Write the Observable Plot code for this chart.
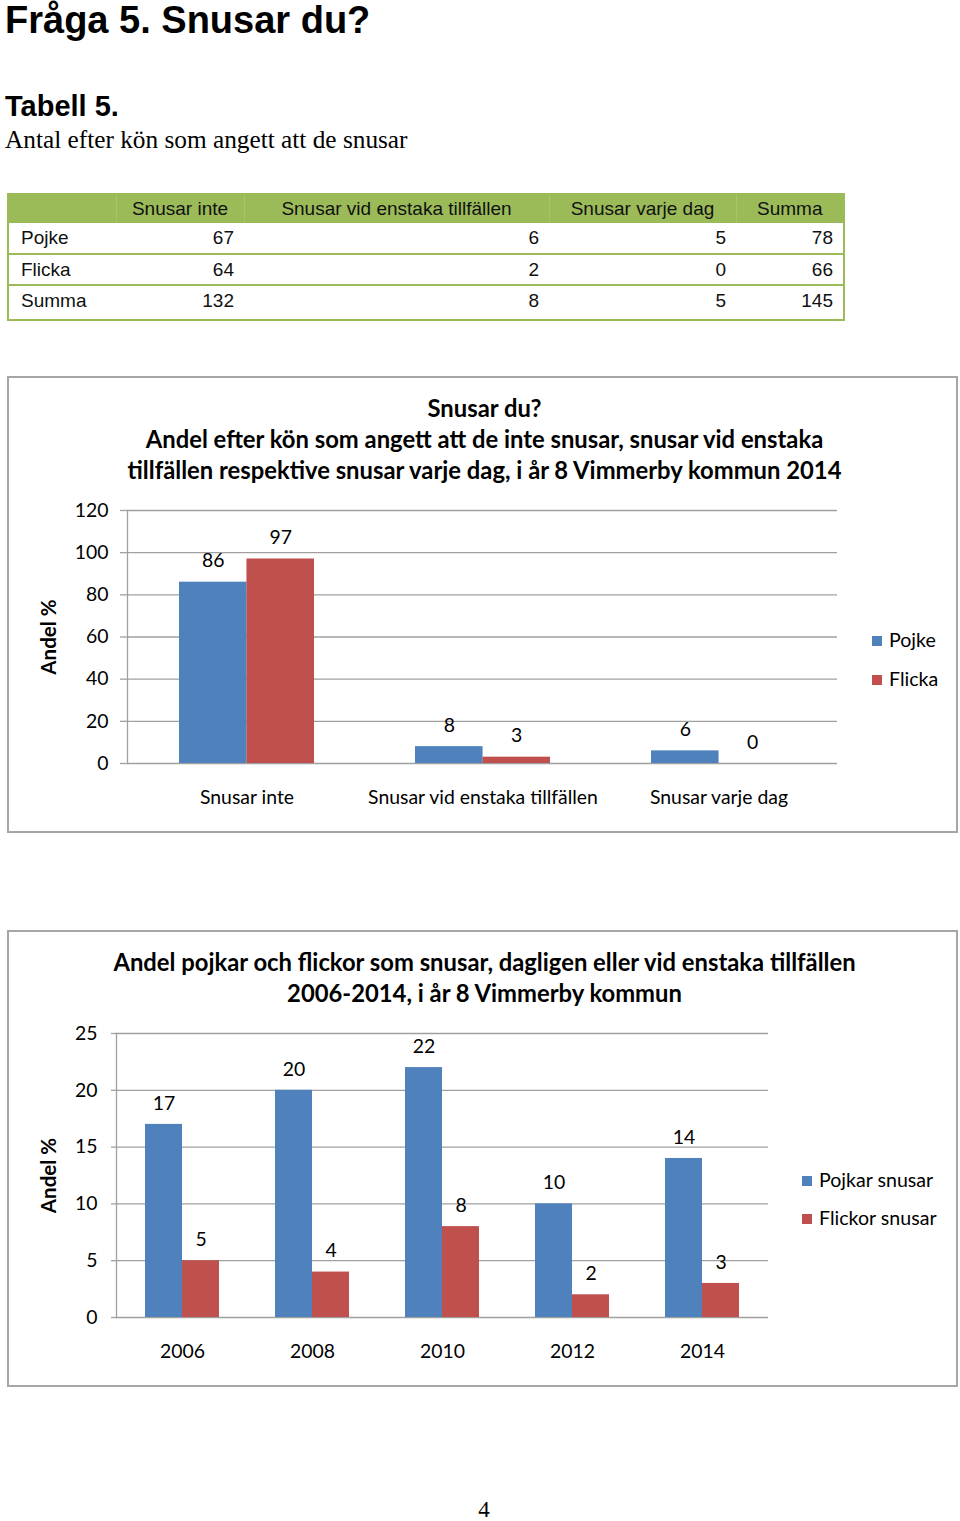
<!DOCTYPE html>
<html>
<head>
<meta charset="utf-8">
<script src="https://cdn.jsdelivr.net/npm/d3@7"></script>
<script src="https://cdn.jsdelivr.net/npm/@observablehq/plot@0.6"></script>
<style>
  html, body { margin: 0; padding: 0; background: #fff; }
  #page { position: relative; width: 960px; height: 1521px; overflow: hidden; background: #fff; }
  .abs { position: absolute; }
  .h1 { font-family: "Liberation Sans", Arial, sans-serif; font-weight: bold; font-size: 38px; left: 5px; top: 0px; line-height: 40px; color: #000; white-space: nowrap; }
  .h2 { font-family: "Liberation Sans", Arial, sans-serif; font-weight: bold; font-size: 29px; left: 5px; top: 89px; line-height: 34px; color: #000; white-space: nowrap; }
  .sub { font-family: "Liberation Serif", "Times New Roman", serif; font-size: 25.3px; left: 5px; top: 124px; line-height: 30px; color: #000; white-space: nowrap; }
  table.t { position: absolute; left: 7px; top: 193px; width: 836px; border-collapse: collapse; border: 2px solid #9bbb59; font-family: "Liberation Sans", Arial, sans-serif; font-size: 19px; color: #111; table-layout: fixed; }
  table.t td, table.t th { padding: 0; font-weight: normal; white-space: nowrap; }
  table.t thead tr { background: #9bbb59; height: 28px; }
  table.t thead th { border-right: 1px solid #a8c46c; text-align: center; line-height: 28px; }
  table.t thead th:last-child { border-right: none; }
  table.t tbody tr { height: 31px; border-bottom: 2px solid #9bbb59; }
  table.t tbody tr:last-child { height: 35px; border-bottom: none; }
  table.t tbody td { text-align: right; padding-right: 10px; line-height: 29px; vertical-align: top; }
  table.t tbody td:first-child { text-align: left; padding-left: 12px; padding-right: 0; }
  .frame { position: absolute; left: 7px; width: 951px; height: 457px; box-sizing: border-box; border: 2px solid #a6a6a6; }
  .ctitle { position: absolute; left: 0; width: 951px; text-align: center; font-family: Lato, "Open Sans", sans-serif; font-weight: bold; font-size: 23.8px; line-height: 31px; color: #000; white-space: nowrap; }
  .leg { position: absolute; font-family: Lato, sans-serif; font-size: 19.6px; line-height: 22px; color: #000; white-space: nowrap; }
  .leg span.sw { display: inline-block; width: 10px; height: 10px; margin-right: 7px; vertical-align: 1px; }
  .pnum { font-family: "Liberation Serif", serif; font-size: 23px; left: 0; width: 968px; text-align: center; top: 1496px; line-height: 28px; }
</style>
</head>
<body>
<div id="page"></div>
<script>
// ---------- Data ----------
const tableHeaders = ["Snusar inte", "Snusar vid enstaka tillfällen", "Snusar varje dag", "Summa"];
const tableRowLabels = ["Pojke", "Flicka", "Summa"];
const tableValues = [
  [67, 6, 5, 78],
  [64, 2, 0, 66],
  [132, 8, 5, 145]
];

const chart1Categories = ["Snusar inte", "Snusar vid enstaka tillfällen", "Snusar varje dag"];
const chart1Pojke = [86, 8, 6];
const chart1Flicka = [97, 3, 0];
const chart1Ticks = [0, 20, 40, 60, 80, 100, 120];

const chart2Years = ["2006", "2008", "2010", "2012", "2014"];
const chart2Pojkar = [17, 20, 22, 10, 14];
const chart2Flickor = [5, 4, 8, 2, 3];
const chart2Ticks = [0, 5, 10, 15, 20, 25];

const BLUE = "#4f81bd";
const RED = "#c0504d";
const GRID = "#a0a0a0";
const FS = 19.4;

const page = document.getElementById("page");
function el(tag, cls, html, style) {
  const e = document.createElement(tag);
  if (cls) e.className = cls;
  if (html != null) e.innerHTML = html;
  if (style) Object.assign(e.style, style);
  return e;
}

// ---------- Headings ----------
page.appendChild(el("div", "abs h1", "Fråga 5. Snusar du?"));
page.appendChild(el("div", "abs h2", "Tabell 5."));
page.appendChild(el("div", "abs sub", "Antal efter kön som angett att de snusar"));

// ---------- Table ----------
const colWidths = [108, 128, 305, 187, 108];
const table = el("table", "t");
const colgroup = document.createElement("colgroup");
colWidths.forEach(w => { const c = document.createElement("col"); c.style.width = w + "px"; colgroup.appendChild(c); });
table.appendChild(colgroup);
const thead = document.createElement("thead");
const hr = document.createElement("tr");
hr.appendChild(el("th", null, ""));
tableHeaders.forEach(h => hr.appendChild(el("th", null, h)));
thead.appendChild(hr);
table.appendChild(thead);
const tbody = document.createElement("tbody");
tableRowLabels.forEach((lab, i) => {
  const tr = document.createElement("tr");
  tr.appendChild(el("td", null, lab));
  tableValues[i].forEach(v => tr.appendChild(el("td", null, String(v))));
  tbody.appendChild(tr);
});
table.appendChild(tbody);
page.appendChild(table);

// ---------- Chart builder ----------
function groupedBar({cats, a, b, yMax, ticks, width, height, ml, mr, mt, mb, padIn, tickSize, tickPadding, labelOffset}) {
  const padOut = padIn / 2;
  const plotW = width - ml - mr;
  const step = plotW / (cats.length - padIn + 2 * padOut);
  const bw = step * (1 - padIn);
  const dataA = cats.map((c, i) => ({cat: c, v: a[i]}));
  const dataB = cats.map((c, i) => ({cat: c, v: b[i]}));
  return Plot.plot({
    width, height,
    marginLeft: ml, marginRight: mr, marginTop: mt, marginBottom: mb,
    style: {fontFamily: "Lato, sans-serif", fontSize: FS + "px", color: "#000", background: "transparent", overflow: "visible"},
    x: {domain: cats, paddingInner: padIn, paddingOuter: padOut, label: null},
    y: {domain: [0, yMax], label: null},
    marks: [
      Plot.gridY(ticks, {stroke: GRID, strokeOpacity: 1, strokeWidth: 1.3}),
      Plot.axisY(ticks, {tickSize, tickPadding, stroke: GRID, strokeOpacity: 1, strokeWidth: 1.3, color: "#000", fill: "#000", fontSize: FS, label: null}),
      Plot.axisY([], {label: "Andel %", labelAnchor: "center", labelArrow: "none", labelOffset, fontWeight: "bold", fontSize: 20.5, fill: "#000", tickSize: 0}),
      Plot.frame({anchor: "left", stroke: GRID, strokeWidth: 1.3}),
      Plot.barY(dataA, {x: "cat", y: "v", fill: BLUE, insetLeft: 0, insetRight: bw / 2}),
      Plot.barY(dataB, {x: "cat", y: "v", fill: RED, insetRight: 0, insetLeft: bw / 2}),
      Plot.text(dataA, {x: "cat", y: "v", text: d => String(d.v), dx: -bw / 4, dy: -21, fontSize: FS, fill: "#000"}),
      Plot.text(dataB, {x: "cat", y: "v", text: d => String(d.v), dx: bw / 4, dy: -21, fontSize: FS, fill: "#000"}),
      Plot.axisX({tickSize: 0, tickPadding: 27, fontSize: FS, fill: "#000", label: null})
    ]
  });
}

// ---------- Chart 1 ----------
const f1 = el("div", "frame", null, {top: "376px"});
f1.appendChild(el("div", "ctitle", "Snusar du?<br>Andel efter kön som angett att de inte snusar, snusar vid enstaka<br>tillfällen respektive snusar varje dag, i år 8 Vimmerby kommun 2014", {top: "14.5px"}));
page.appendChild(f1);
const c1 = groupedBar({
  cats: chart1Categories, a: chart1Pojke, b: chart1Flicka, yMax: 120, ticks: chart1Ticks,
  width: 951, height: 330, ml: 120, mr: 121, mt: 20, mb: 57,
  padIn: 0.43, tickSize: 7, tickPadding: 12, labelOffset: 86
});
Object.assign(c1.style, {position: "absolute", left: "7px", top: "490px"});
page.appendChild(c1);
const l1 = el("div", "leg", `<div style="height:39px"><span class="sw" style="background:${BLUE}"></span>Pojke</div><div><span class="sw" style="background:${RED}"></span>Flicka</div>`, {left: "872px", top: "629px"});
page.appendChild(l1);

// ---------- Chart 2 ----------
const f2 = el("div", "frame", null, {top: "930px"});
f2.appendChild(el("div", "ctitle", "Andel pojkar och flickor som snusar, dagligen eller vid enstaka tillfällen<br>2006-2014, i år 8 Vimmerby kommun", {top: "14.5px"}));
page.appendChild(f2);
const c2 = groupedBar({
  cats: chart2Years, a: chart2Pojkar, b: chart2Flickor, yMax: 25, ticks: chart2Ticks,
  width: 951, height: 361, ml: 109, mr: 190, mt: 20, mb: 57,
  padIn: 0.4325, tickSize: 5, tickPadding: 14, labelOffset: 75
});
Object.assign(c2.style, {position: "absolute", left: "7px", top: "1013px"});
page.appendChild(c2);
const l2 = el("div", "leg", `<div style="height:38px"><span class="sw" style="background:${BLUE}"></span>Pojkar snusar</div><div><span class="sw" style="background:${RED}"></span>Flickor snusar</div>`, {left: "802px", top: "1169px"});
page.appendChild(l2);

// ---------- Page number ----------
page.appendChild(el("div", "abs pnum", "4"));
</script>
</body>
</html>
